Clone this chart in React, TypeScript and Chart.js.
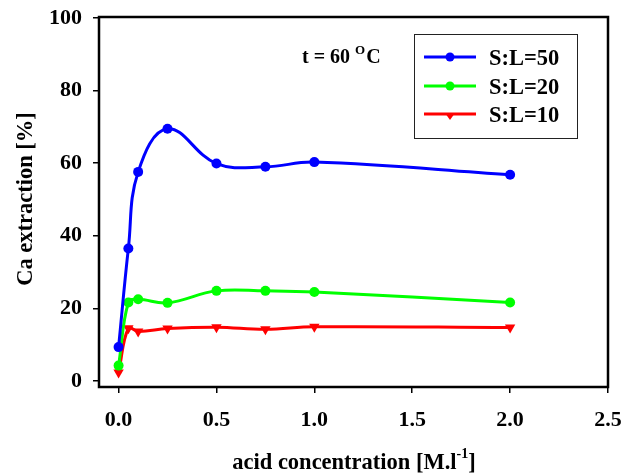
import React, { useEffect, useRef } from "react";
import { Chart, registerables } from "chart.js";

Chart.register(...registerables);

// acid concentration [M/l]
const concentrations = [0, 0.05, 0.1, 0.25, 0.5, 0.75, 1.0, 2.0];
// Ca extraction [%]
const sl50 = [9.3, 36.5, 57.6, 69.5, 59.9, 59.0, 60.3, 56.8];
const sl20 = [4.2, 21.6, 22.5, 21.5, 24.8, 24.8, 24.5, 21.6];
const sl10 = [2.3, 14.5, 13.6, 14.4, 14.8, 14.2, 14.9, 14.7];

const xTicks = [0, 0.5, 1.0, 1.5, 2.0, 2.5];
const yTicks = [0, 20, 40, 60, 80, 100];

const seriesNames = ["S:L=50", "S:L=20", "S:L=10"];
const seriesColors = ["#0000ff", "#00ff00", "#ff0000"];

const FONT = '"Liberation Serif", "Times New Roman", serif';

const toPoints = (ys: number[]) => ys.map((y, i) => ({ x: concentrations[i], y }));

const decorPlugin = {
  id: "decor",
  afterDraw(chart: any) {
    const { ctx, chartArea } = chart;
    ctx.save();

    // frame
    ctx.strokeStyle = "#000";
    ctx.lineWidth = 2.5;
    ctx.strokeRect(
      chartArea.left,
      chartArea.top,
      chartArea.right - chartArea.left,
      chartArea.bottom - chartArea.top
    );

    ctx.fillStyle = "#000";
    ctx.textBaseline = "alphabetic";

    // x title with superscript
    const main = "acid concentration [M.l";
    ctx.font = `bold 22.5px ${FONT}`;
    const wMain = ctx.measureText(main).width;
    ctx.font = `bold 14px ${FONT}`;
    const wSup = ctx.measureText("-1").width;
    ctx.font = `bold 22.5px ${FONT}`;
    const wEnd = ctx.measureText("]").width;
    let x = 354 - (wMain + wSup + wEnd) / 2;
    ctx.textAlign = "left";
    ctx.fillText(main, x, 469);
    x += wMain;
    ctx.font = `bold 14px ${FONT}`;
    ctx.fillText("-1", x, 458);
    x += wSup;
    ctx.font = `bold 22.5px ${FONT}`;
    ctx.fillText("]", x, 469);

    // y title
    ctx.save();
    ctx.translate(32, 199);
    ctx.rotate(-Math.PI / 2);
    ctx.textAlign = "center";
    ctx.font = `bold 22.5px ${FONT}`;
    ctx.fillText("Ca extraction [%]", 0, 0);
    ctx.restore();

    // temperature annotation
    ctx.textAlign = "left";
    ctx.font = `bold 20px ${FONT}`;
    let tx = 302;
    const t1 = "t = 60 ";
    ctx.fillText(t1, tx, 63);
    tx += ctx.measureText(t1).width;
    ctx.font = `bold 13px ${FONT}`;
    ctx.fillText("O", tx, 54);
    tx += ctx.measureText("O").width + 1;
    ctx.font = `bold 20px ${FONT}`;
    ctx.fillText("C", tx, 63);

    // legend
    ctx.lineWidth = 1;
    ctx.strokeStyle = "#222";
    ctx.strokeRect(414.5, 34.5, 163, 104);
    const rows = [57, 86, 114];
    rows.forEach((ry, i) => {
      ctx.strokeStyle = seriesColors[i];
      ctx.fillStyle = seriesColors[i];
      ctx.lineWidth = 3;
      ctx.beginPath();
      ctx.moveTo(424, ry);
      ctx.lineTo(476, ry);
      ctx.stroke();
      ctx.beginPath();
      if (i === 2) {
        ctx.moveTo(445, ry - 1);
        ctx.lineTo(455, ry - 1);
        ctx.lineTo(450, ry + 6);
        ctx.closePath();
      } else {
        ctx.arc(450, ry, 4.5, 0, Math.PI * 2);
      }
      ctx.fill();
      ctx.fillStyle = "#000";
      ctx.font = `bold 22.5px ${FONT}`;
      ctx.textBaseline = "middle";
      ctx.fillText(seriesNames[i], 489, ry + 2);
      ctx.textBaseline = "alphabetic";
    });

    ctx.restore();
  },
};

const App = () => {
  const canvasRef = useRef<HTMLCanvasElement | null>(null);

  useEffect(() => {
    const ctx = canvasRef.current?.getContext("2d");
    if (!ctx) return;

    const makeSet = (i: number, ys: number[]) => ({
      label: seriesNames[i],
      data: toPoints(ys),
      borderColor: seriesColors[i],
      backgroundColor: seriesColors[i],
      borderWidth: 3,
      tension: 0.4,
      pointStyle: i === 2 ? "triangle" : "circle",
      rotation: i === 2 ? 180 : 0,
      pointRadius: i === 2 ? 6 : 5,
      pointBorderWidth: 0,
      fill: false,
    });

    const chart = new Chart(ctx, {
      type: "line",
      data: {
        datasets: [makeSet(0, sl50), makeSet(1, sl20), makeSet(2, sl10)],
      },
      options: {
        animation: false,
        responsive: true,
        maintainAspectRatio: false,
        layout: { padding: { top: 17, right: 18, left: 0, bottom: 0 } },
        plugins: {
          legend: { display: false },
          tooltip: { enabled: false },
        },
        scales: {
          x: {
            type: "linear",
            min: -0.1,
            max: 2.5,
            afterBuildTicks: (scale: any) => {
              scale.ticks = xTicks.map((v) => ({ value: v }));
            },
            afterFit: (scale: any) => {
              scale.height = 86;
              scale.paddingLeft = 0;
              scale.paddingRight = 0;
            },
            grid: {
              drawOnChartArea: false,
              drawTicks: true,
              tickLength: 6,
              color: "#000",
              lineWidth: 1.5,
            },
            border: { display: false },
            ticks: {
              color: "#000",
              padding: 14,
              maxRotation: 0,
              font: { family: FONT, size: 22, weight: "bold" },
              callback: (v: any) => Number(v).toFixed(1),
            },
          },
          y: {
            type: "linear",
            min: -1.7,
            max: 100.3,
            afterBuildTicks: (scale: any) => {
              scale.ticks = yTicks.map((v) => ({ value: v }));
            },
            afterFit: (scale: any) => {
              scale.width = 99;
              scale.paddingTop = 0;
              scale.paddingBottom = 0;
            },
            grid: {
              drawOnChartArea: false,
              drawTicks: true,
              tickLength: 6,
              color: "#000",
              lineWidth: 1.5,
            },
            border: { display: false },
            ticks: {
              color: "#000",
              padding: 11,
              font: { family: FONT, size: 22, weight: "bold" },
            },
          },
        },
      },
      plugins: [decorPlugin],
    } as any);

    return () => {
      chart.destroy();
    };
  }, []);

  return (
    <div style={{ position: "absolute", left: 0, top: 0, width: 626, height: 473, background: "#fff" }}>
      <canvas ref={canvasRef} />
    </div>
  );
};

export default App;
